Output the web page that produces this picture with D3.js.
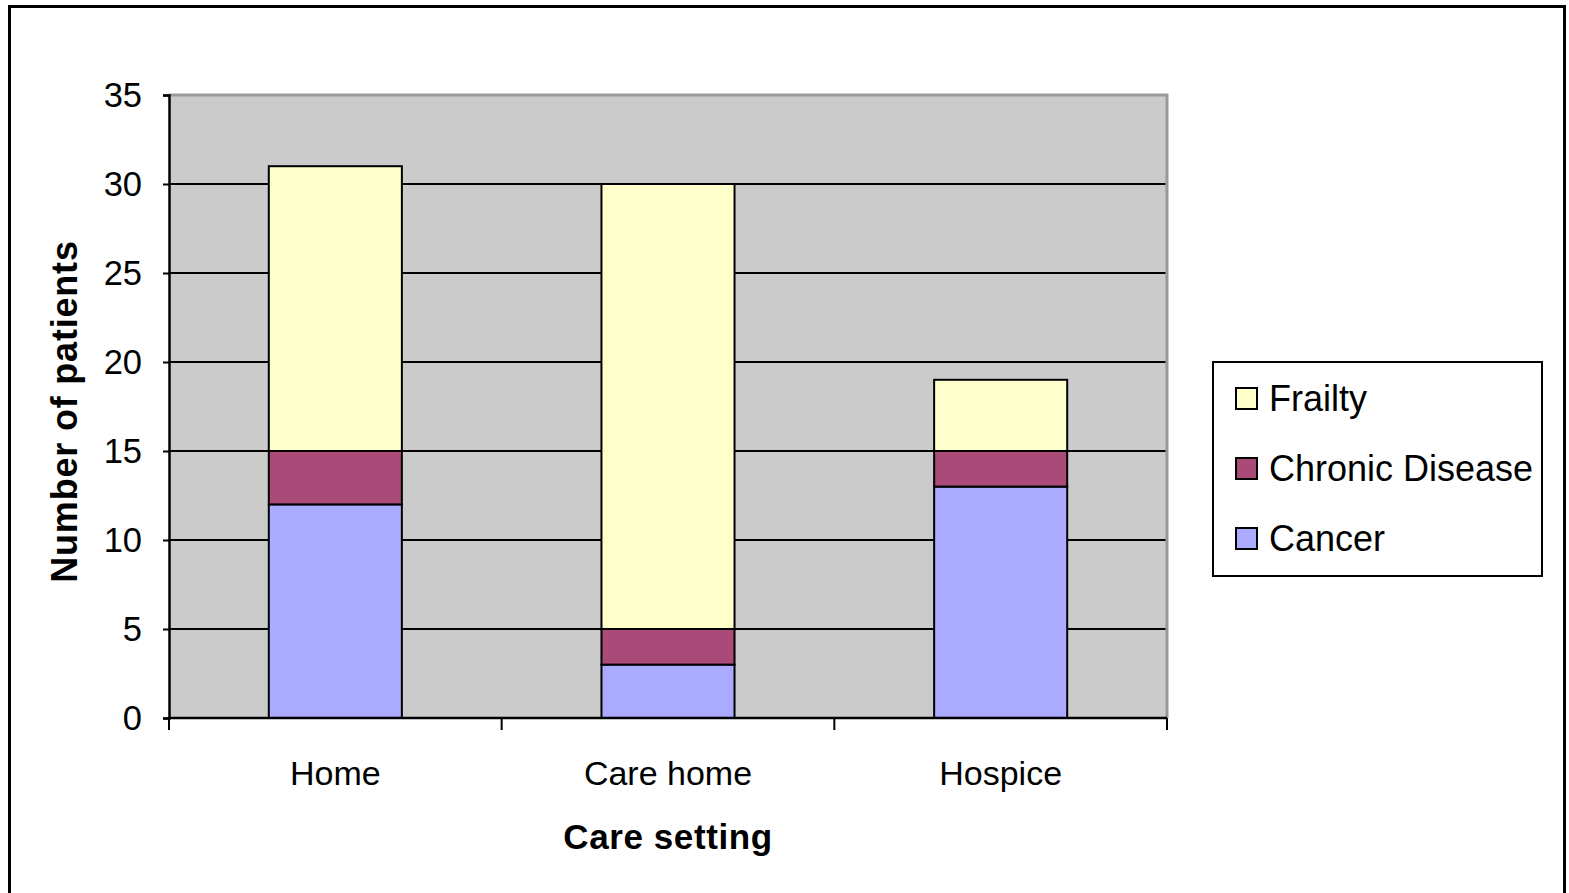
<!DOCTYPE html>
<html>
<head>
<meta charset="utf-8">
<script src="https://cdn.jsdelivr.net/npm/d3@7/dist/d3.min.js"></script>
<style>
  html, body { margin: 0; padding: 0; background: #fff; }
  svg { display: block; font-family: "Liberation Sans", Arial, sans-serif; }
</style>
</head>
<body>
<svg id="chart" width="1569" height="893"></svg>
<script>
// Patients by care setting, stacked by diagnosis group
const categories = ["Home", "Care home", "Hospice"];
const seriesNames = ["Cancer", "Chronic Disease", "Frailty"];
const cancer = [12, 3, 13];
const chronicDisease = [3, 2, 2];
const frailty = [16, 25, 4];
const yTicks = [0, 5, 10, 15, 20, 25, 30, 35];
const seriesColors = ["#AAAAFF", "#AA4A78", "#FFFFCC"];

const rows = categories.map((c, i) => ({
  category: c,
  "Cancer": cancer[i],
  "Chronic Disease": chronicDisease[i],
  "Frailty": frailty[i]
}));

const svg = d3.select("#chart");

// outer frame
svg.append("rect")
  .attr("x", 9.5).attr("y", 6.5)
  .attr("width", 1555).attr("height", 910)
  .attr("fill", "none").attr("stroke", "#000").attr("stroke-width", 3);

const plot = { left: 169, right: 1167, top: 95, bottom: 718 };

const x = d3.scaleBand()
  .domain(categories)
  .range([plot.left, plot.right])
  .paddingInner(0.6)
  .paddingOuter(0.3);

const y = d3.scaleLinear()
  .domain([0, 35])
  .range([plot.bottom, plot.top]);

// plot background
svg.append("rect")
  .attr("x", plot.left).attr("y", plot.top)
  .attr("width", plot.right - plot.left).attr("height", plot.bottom - plot.top)
  .attr("fill", "#CBCBCB");

// gray frame on top and right
svg.append("path")
  .attr("d", `M${plot.left},${plot.top} H${plot.right} V${plot.bottom}`)
  .attr("fill", "none").attr("stroke", "#999").attr("stroke-width", 3);

// horizontal gridlines
svg.append("g")
  .selectAll("line")
  .data(yTicks.filter(t => t > 0 && t < 35))
  .join("line")
  .attr("x1", plot.left).attr("x2", plot.right - 1.5)
  .attr("y1", d => y(d)).attr("y2", d => y(d))
  .attr("stroke", "#000").attr("stroke-width", 2);

// stacked bars
const stack = d3.stack().keys(seriesNames);
const layers = stack(rows);

svg.append("g")
  .selectAll("g")
  .data(layers)
  .join("g")
  .attr("fill", (d, i) => seriesColors[i])
  .selectAll("rect")
  .data(d => d)
  .join("rect")
  .attr("x", d => x(d.data.category))
  .attr("width", x.bandwidth())
  .attr("y", d => y(d[1]))
  .attr("height", d => y(d[0]) - y(d[1]))
  .attr("stroke", "#000").attr("stroke-width", 2);

// y axis
const yAxis = d3.axisLeft(y)
  .tickValues(yTicks)
  .tickSize(6)
  .tickPadding(21)
  .tickFormat(d3.format("d"));

const yg = svg.append("g")
  .attr("transform", `translate(${plot.left},0)`)
  .call(yAxis);
yg.select(".domain").attr("stroke", "#000").attr("stroke-width", 2.5);
yg.selectAll(".tick line").attr("stroke", "#000").attr("stroke-width", 2);
yg.selectAll(".tick text")
  .attr("font-size", 34.5).attr("fill", "#000")
  .attr("font-family", "Liberation Sans, Arial, sans-serif");

// x axis baseline with boundary ticks
const xAxisG = svg.append("g");
xAxisG.append("line")
  .attr("x1", plot.left).attr("x2", plot.right)
  .attr("y1", plot.bottom).attr("y2", plot.bottom)
  .attr("stroke", "#000").attr("stroke-width", 2.5);

const boundaries = [plot.left].concat(categories.map(c => x(c) - x.step() * x.paddingInner() / 2 + x.step()));
boundaries[boundaries.length - 1] = plot.right;
xAxisG.selectAll("line.tick")
  .data(boundaries)
  .join("line")
  .attr("class", "tick")
  .attr("x1", d => d).attr("x2", d => d)
  .attr("y1", plot.bottom).attr("y2", plot.bottom + 12)
  .attr("stroke", "#000").attr("stroke-width", 2);

xAxisG.selectAll("text")
  .data(categories)
  .join("text")
  .attr("x", d => x(d) + x.bandwidth() / 2)
  .attr("y", 785)
  .attr("text-anchor", "middle")
  .attr("font-size", 34)
  .attr("fill", "#000")
  .text(d => d);

// axis titles
svg.append("text")
  .attr("x", (plot.left + plot.right) / 2)
  .attr("y", 849)
  .attr("text-anchor", "middle")
  .attr("font-size", 35)
  .attr("font-weight", "bold")
  .attr("letter-spacing", 0.6)
  .text("Care setting");

svg.append("text")
  .attr("transform", `translate(77,${(plot.top + plot.bottom) / 2 + 5}) rotate(-90)`)
  .attr("text-anchor", "middle")
  .attr("font-size", 36)
  .attr("font-weight", "bold")
  .attr("letter-spacing", 0.8)
  .text("Number of patients");

// legend
const legend = svg.append("g");
legend.append("rect")
  .attr("x", 1213).attr("y", 362)
  .attr("width", 329).attr("height", 214)
  .attr("fill", "#fff").attr("stroke", "#000").attr("stroke-width", 2);

const legendItems = seriesNames.map((n, i) => ({ name: n, color: seriesColors[i] })).reverse();
const li = legend.selectAll("g.item")
  .data(legendItems)
  .join("g")
  .attr("class", "item")
  .attr("transform", (d, i) => `translate(1236,${399 + i * 70})`);

li.append("rect")
  .attr("x", 0).attr("y", -11)
  .attr("width", 21).attr("height", 21)
  .attr("fill", d => d.color)
  .attr("stroke", "#000").attr("stroke-width", 2);

li.append("text")
  .attr("x", 33).attr("y", 12)
  .attr("font-size", 36)
  .attr("fill", "#000")
  .text(d => d.name);
</script>
</body>
</html>
